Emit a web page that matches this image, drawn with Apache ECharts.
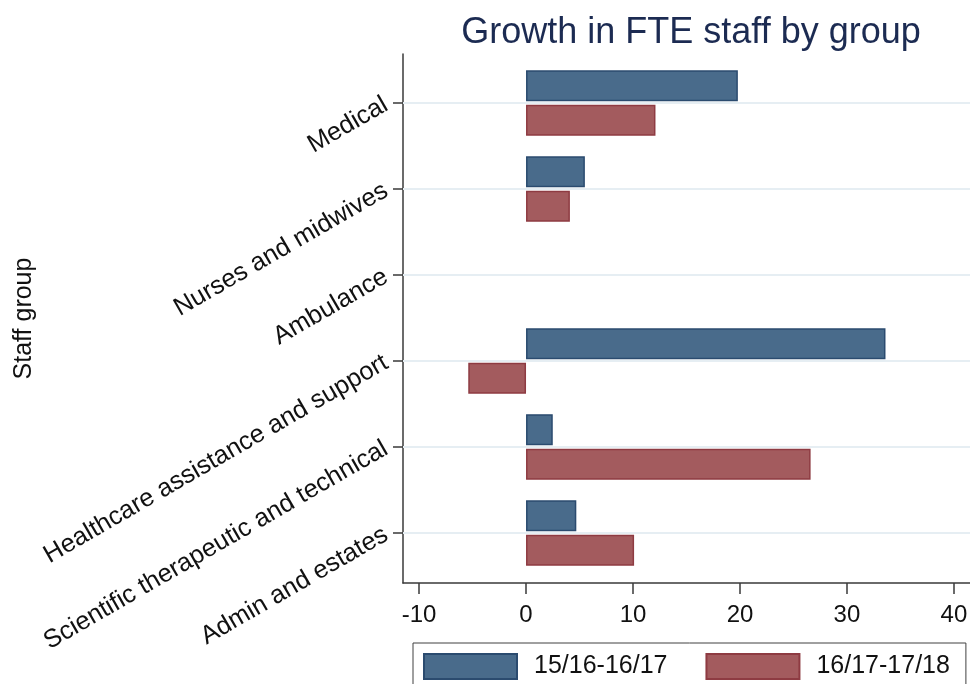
<!DOCTYPE html>
<html>
<head>
<meta charset="utf-8">
<script src="https://cdn.jsdelivr.net/npm/echarts@6/dist/echarts.min.js"></script>
<style>
html,body{margin:0;padding:0;background:#fff;}
#chart{width:970px;height:684px;}
</style>
</head>
<body>
<div id="chart"></div>
<script>
const categories = ["Medical", "Nurses and midwives", "Ambulance", "Healthcare assistance and support", "Scientific therapeutic and technical", "Admin and estates"];
const seriesNames = ["15/16-16/17", "16/17-17/18"];
const growth1516 = [19.8, 5.5, null, 33.6, 2.5, 4.7];
const growth1617 = [12.1, 4.1, null, -5.4, 26.6, 10.1];
const xTicks = [-10, 0, 10, 20, 30, 40];

const FONT = "Liberation Sans, Arial, sans-serif";
const AXIS_COLOR = "#3a3a3a";
const X_MIN = -11.5, X_MAX = 41.5;

const chart = echarts.init(document.getElementById('chart'), null, {renderer: 'canvas'});
chart.setOption({
  animation: false,
  backgroundColor: '#ffffff',
  textStyle: {fontFamily: FONT},
  title: {
    text: 'Growth in FTE staff by group',
    left: 686, top: 10, textAlign: 'center',
    textStyle: {fontFamily: FONT, fontSize: 36, fontWeight: 'normal', color: '#1c2b52'}
  },
  legend: {
    left: 413, top: 643,
    orient: 'horizontal',
    padding: [10, 16, 10, 10],
    borderColor: '#404040', borderWidth: 1,
    itemWidth: 93, itemHeight: 25, itemGap: 38,
    icon: 'rect',
    textStyle: {fontFamily: FONT, fontSize: 25, color: '#111', padding: [0, 0, 0, 12]},
    data: seriesNames
  },
  grid: [
    {left: 403, right: 0, top: 60, bottom: 108, containLabel: false, outerBoundsMode: 'none'},
    {left: 403, right: 0, top: 54, bottom: 101, containLabel: false, outerBoundsMode: 'none'}
  ],
  xAxis: [
    {type: 'value', gridIndex: 0, min: X_MIN, max: X_MAX, show: false},
    {
      type: 'value', gridIndex: 1, min: X_MIN, max: X_MAX,
      axisLine: {show: true, onZero: false, lineStyle: {color: AXIS_COLOR, width: 1.5}},
      axisTick: {show: true, length: 11, customValues: xTicks, lineStyle: {color: AXIS_COLOR, width: 1.5}},
      axisLabel: {show: true, customValues: xTicks, margin: 20, fontFamily: FONT, fontSize: 24, color: '#111'},
      splitLine: {show: false}
    }
  ],
  yAxis: [
    {
      type: 'category', gridIndex: 0, data: categories, inverse: true,
      axisLine: {show: false, onZero: false},
      axisTick: {show: true, alignWithLabel: true, length: 10, lineStyle: {color: AXIS_COLOR, width: 1.5}},
      axisLabel: {show: true, rotate: 30, margin: 17, interval: 0, padding: [14, 0, 0, 0], fontFamily: FONT, fontSize: 25.5, color: '#111'},
      splitLine: {show: false}
    },
    {
      type: 'value', gridIndex: 1, min: 0, max: 1,
      axisLine: {show: true, onZero: false, lineStyle: {color: AXIS_COLOR, width: 1.5}},
      axisTick: {show: false},
      axisLabel: {show: false},
      splitLine: {show: false},
      name: 'Staff group',
      nameLocation: 'middle',
      nameRotate: 90,
      nameGap: 366,
      nameTextStyle: {fontFamily: FONT, fontSize: 25, color: '#111'}
    }
  ],
  series: [
    {
      name: 'gridlines', type: 'line', xAxisIndex: 0, yAxisIndex: 0,
      data: [], silent: true, z: 1,
      markLine: {
        silent: true, symbol: 'none', z: 1,
        label: {show: false},
        lineStyle: {color: '#e6eef3', width: 2, type: 'solid'},
        data: categories.map(c => ({yAxis: c}))
      }
    },
    {
      name: seriesNames[0], type: 'bar', xAxisIndex: 0, yAxisIndex: 0,
      data: growth1516,
      barWidth: 31, barGap: '12%',
      itemStyle: {color: '#496b8b', borderColor: '#2b4b6f', borderWidth: 1.5}
    },
    {
      name: seriesNames[1], type: 'bar', xAxisIndex: 0, yAxisIndex: 0,
      data: growth1617,
      barWidth: 31, barGap: '12%',
      itemStyle: {color: '#a35b5e', borderColor: '#8e3b42', borderWidth: 1.5}
    }
  ]
});
</script>
</body>
</html>
